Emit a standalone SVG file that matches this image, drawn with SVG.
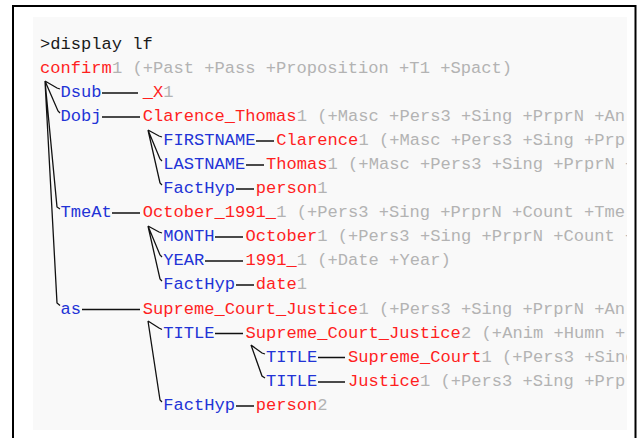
<svg xmlns="http://www.w3.org/2000/svg" width="641" height="438" viewBox="0 0 641 438">
<style>
text{font-family:"Liberation Mono","DejaVu Sans Mono",monospace;font-size:17.1px}
.k{fill:#1a1a1a}.r{fill:#ff1f1f}.b{fill:#2233d6}.g{fill:#b3b3b3}
.c path{fill:none;stroke:#111;stroke-width:1.3}
</style>
<defs><clipPath id="clip"><rect x="0" y="0" width="627" height="438"/></clipPath></defs>
<rect x="0" y="0" width="641" height="438" fill="#fff"/>
<rect x="33" y="17" width="594" height="413" fill="#f9f9f9"/>
<path d="M13 438V6H635.5V438" fill="none" stroke="#000" stroke-width="2"/>
<g clip-path="url(#clip)">
<g id="cmd"><text class="k" x="40" y="49">&gt;display lf</text></g>
<g id="confirm"><text class="r" x="40" y="73">confirm</text><text class="g" x="111.9" y="73">1 (+Past +Pass +Proposition +T1 +Spact)</text></g>
<g id="dsub"><text class="b" x="60.5" y="97">Dsub</text><text class="r" x="142.7" y="97">_X</text><text class="g" x="163.2" y="97">1</text></g>
<g id="dobj"><text class="b" x="60.5" y="121">Dobj</text><text class="r" x="142.7" y="121">Clarence_Thomas</text><text class="g" x="296.8" y="121">1 (+Masc +Pers3 +Sing +PrprN +An</text></g>
<g id="firstname"><text class="b" x="163.2" y="145">FIRSTNAME</text><text class="r" x="276.2" y="145">Clarence</text><text class="g" x="358.4" y="145">1 (+Masc +Pers3 +Sing +Prp</text></g>
<g id="lastname"><text class="b" x="163.2" y="169">LASTNAME</text><text class="r" x="265.9" y="169">Thomas</text><text class="g" x="327.6" y="169">1 (+Masc +Pers3 +Sing +PrprN +</text></g>
<g id="facthyp1"><text class="b" x="163.2" y="193">FactHyp</text><text class="r" x="255.7" y="193">person</text><text class="g" x="317.3" y="193">1</text></g>
<g id="tmeat"><text class="b" x="60.5" y="217">TmeAt</text><text class="r" x="142.7" y="217">October_1991_</text><text class="g" x="276.2" y="217">1 (+Pers3 +Sing +PrprN +Count +Tme</text></g>
<g id="month"><text class="b" x="163.2" y="241">MONTH</text><text class="r" x="245.4" y="241">October</text><text class="g" x="317.3" y="241">1 (+Pers3 +Sing +PrprN +Count +</text></g>
<g id="year"><text class="b" x="163.2" y="265">YEAR</text><text class="r" x="245.4" y="265">1991_</text><text class="g" x="296.8" y="265">1 (+Date +Year)</text></g>
<g id="facthyp2"><text class="b" x="163.2" y="289">FactHyp</text><text class="r" x="255.7" y="289">date</text><text class="g" x="296.8" y="289">1</text></g>
<g id="as"><text class="b" x="60.5" y="313.5">as</text><text class="r" x="142.7" y="313.5">Supreme_Court_Justice</text><text class="g" x="358.4" y="313.5">1 (+Pers3 +Sing +PrprN +An</text></g>
<g id="title1"><text class="b" x="163.2" y="337.5">TITLE</text><text class="r" x="245.4" y="337.5">Supreme_Court_Justice</text><text class="g" x="461.1" y="337.5">2 (+Anim +Humn +</text></g>
<g id="title2"><text class="b" x="265.9" y="361.5">TITLE</text><text class="r" x="348.1" y="361.5">Supreme_Court</text><text class="g" x="481.6" y="361.5">1 (+Pers3 +Sing</text></g>
<g id="title3"><text class="b" x="265.9" y="386">TITLE</text><text class="r" x="348.1" y="386">Justice</text><text class="g" x="420" y="386">1 (+Pers3 +Sing +Prp</text></g>
<g id="facthyp3"><text class="b" x="163.2" y="410">FactHyp</text><text class="r" x="255.7" y="410">person</text><text class="g" x="317.3" y="410">2</text></g>
</g>
<g id="connectors" class="c">
<path d="M102 93H138M102 117H140M256 141H274M246 165H264M236 189H254M112 213H140M215 237H243M205 261H243M236 285H254M82 309.5H140M215 333.5H243M318 357.5H345M318 382H345M236 406H254"/>
<path d="M45 81L57 88L60 89M45 81L58 111L60 113M45 81L57 207L60 209M45 81L57 303L60 305.5"/>
<path d="M148 130L159 136L162 137M148 130L160 159L162 161M148 130L160 183L162 185"/>
<path d="M148 226L159 232L162 233M148 226L160 255L162 257M148 226L160 279L162 281"/>
<path d="M148 321L159 328L162 329.5M148 321L160 400L162 402"/>
<path d="M251 345L262 353L265 354M251 345L262 376L265 378"/>
</g>
</svg>
